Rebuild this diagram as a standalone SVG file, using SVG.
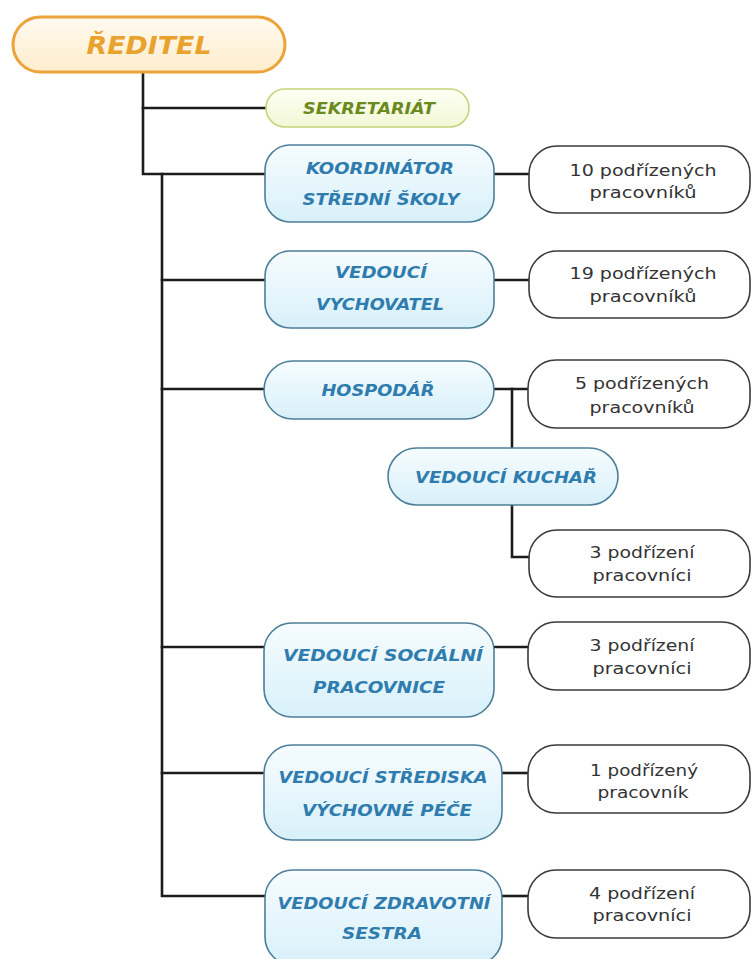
<svg xmlns="http://www.w3.org/2000/svg" width="753" height="959" viewBox="0 0 753 959">
<defs>
<linearGradient id="gBlue" x1="0" y1="0" x2="0" y2="1"><stop offset="0" stop-color="#f6fcff"/><stop offset="1" stop-color="#d8f0fa"/></linearGradient>
<linearGradient id="gOrange" x1="0" y1="0" x2="0" y2="1"><stop offset="0" stop-color="#fffaf0"/><stop offset="1" stop-color="#ffedcc"/></linearGradient>
<linearGradient id="gGreen" x1="0" y1="0" x2="0" y2="1"><stop offset="0" stop-color="#fefff4"/><stop offset="1" stop-color="#f2f8d6"/></linearGradient>
</defs>
<style>
.blue{fill:url(#gBlue);stroke:#4c7f97;stroke-width:1.6}
.cnt{fill:#ffffff;stroke:#3a3a3a;stroke-width:1.6}
.bt{font-family:"DejaVu Sans",sans-serif;font-weight:bold;font-style:italic;font-size:16px;fill:#2f7cae;text-anchor:middle}
.ct{font-family:"DejaVu Sans",sans-serif;font-size:16px;fill:#333333;text-anchor:middle}
.ln{fill:none;stroke:#1c1c1c;stroke-width:2.6;stroke-linecap:square}
</style>
<rect width="753" height="959" fill="#ffffff"/>
<g id="connectors">
<path class="ln" d="M143 72 V174 H265"/>
<path class="ln" d="M143 108 H266"/>
<path class="ln" d="M162 174 V896 H265"/>
<path class="ln" d="M162 280 H265"/>
<path class="ln" d="M162 389 H264"/>
<path class="ln" d="M162 647 H264"/>
<path class="ln" d="M162 773 H264"/>
<path class="ln" d="M494 174 H529"/>
<path class="ln" d="M494 280 H529"/>
<path class="ln" d="M494 389 H528"/>
<path class="ln" d="M512 389 V448"/>
<path class="ln" d="M512 505 V557 H529"/>
<path class="ln" d="M494 647 H528"/>
<path class="ln" d="M502 773 H528"/>
<path class="ln" d="M502 896 H528"/>
</g>
<g id="reditel">
<rect x="13" y="17" width="272" height="55" rx="27.5" fill="url(#gOrange)" stroke="#eba33a" stroke-width="3"/>
<text x="149" y="54" textLength="125" lengthAdjust="spacingAndGlyphs" style="font-family:'DejaVu Sans',sans-serif;font-weight:bold;font-style:italic;font-size:25px;fill:#e9a22e;text-anchor:middle">ŘEDITEL</text>
</g>
<g id="sekretariat">
<rect x="266" y="89" width="203" height="38" rx="19" fill="url(#gGreen)" stroke="#c6d47a" stroke-width="1.6"/>
<text x="369" y="114" textLength="132" lengthAdjust="spacingAndGlyphs" style="font-family:'DejaVu Sans',sans-serif;font-weight:bold;font-style:italic;font-size:15px;fill:#6b8a1e;text-anchor:middle">SEKRETARIÁT</text>
</g>
<g id="koordinator">
<rect class="blue" x="265" y="145" width="229" height="77" rx="25"/>
<text class="bt" x="380" y="174" textLength="148" lengthAdjust="spacingAndGlyphs">KOORDINÁTOR</text>
<text class="bt" x="381" y="205" textLength="157" lengthAdjust="spacingAndGlyphs">STŘEDNÍ ŠKOLY</text>
</g>
<g id="cnt10">
<rect class="cnt" x="529" y="146" width="221" height="67" rx="28"/>
<text class="ct" x="643" y="176" textLength="147" lengthAdjust="spacingAndGlyphs">10 podřízených</text>
<text class="ct" x="643" y="198" textLength="107" lengthAdjust="spacingAndGlyphs">pracovníků</text>
</g>
<g id="vychovatel">
<rect class="blue" x="265" y="251" width="229" height="77" rx="25"/>
<text class="bt" x="381" y="278" textLength="92" lengthAdjust="spacingAndGlyphs">VEDOUCÍ</text>
<text class="bt" x="380" y="310" textLength="128" lengthAdjust="spacingAndGlyphs">VYCHOVATEL</text>
</g>
<g id="cnt19">
<rect class="cnt" x="529" y="251" width="221" height="67" rx="28"/>
<text class="ct" x="643" y="279" textLength="147" lengthAdjust="spacingAndGlyphs">19 podřízených</text>
<text class="ct" x="643" y="302" textLength="107" lengthAdjust="spacingAndGlyphs">pracovníků</text>
</g>
<g id="hospodar">
<rect class="blue" x="264" y="361" width="230" height="58" rx="29"/>
<text class="bt" x="378" y="396" textLength="113" lengthAdjust="spacingAndGlyphs">HOSPODÁŘ</text>
</g>
<g id="cnt5">
<rect class="cnt" x="528" y="360" width="222" height="68" rx="28"/>
<text class="ct" x="642" y="389" textLength="134" lengthAdjust="spacingAndGlyphs">5 podřízených</text>
<text class="ct" x="642" y="413" textLength="105" lengthAdjust="spacingAndGlyphs">pracovníků</text>
</g>
<g id="kuchar">
<rect class="blue" x="388" y="448" width="230" height="57" rx="28.5"/>
<text class="bt" x="506" y="483" textLength="182" lengthAdjust="spacingAndGlyphs">VEDOUCÍ KUCHAŘ</text>
</g>
<g id="cnt3k">
<rect class="cnt" x="529" y="530" width="221" height="67" rx="28"/>
<text class="ct" x="642" y="558" textLength="105" lengthAdjust="spacingAndGlyphs">3 podřízení</text>
<text class="ct" x="642" y="581" textLength="99" lengthAdjust="spacingAndGlyphs">pracovníci</text>
</g>
<g id="socialni">
<rect class="blue" x="264" y="623" width="230" height="94" rx="28"/>
<text class="bt" x="383" y="661" textLength="200" lengthAdjust="spacingAndGlyphs">VEDOUCÍ SOCIÁLNÍ</text>
<text class="bt" x="379" y="693" textLength="132" lengthAdjust="spacingAndGlyphs">PRACOVNICE</text>
</g>
<g id="cnt3s">
<rect class="cnt" x="528" y="622" width="222" height="68" rx="28"/>
<text class="ct" x="642" y="651" textLength="105" lengthAdjust="spacingAndGlyphs">3 podřízení</text>
<text class="ct" x="642" y="674" textLength="99" lengthAdjust="spacingAndGlyphs">pracovníci</text>
</g>
<g id="strediska">
<rect class="blue" x="264" y="745" width="238" height="95" rx="28"/>
<text class="bt" x="383" y="783" textLength="209" lengthAdjust="spacingAndGlyphs">VEDOUCÍ STŘEDISKA</text>
<text class="bt" x="387" y="816" textLength="170" lengthAdjust="spacingAndGlyphs">VÝCHOVNÉ PÉČE</text>
</g>
<g id="cnt1">
<rect class="cnt" x="528" y="745" width="222" height="68" rx="28"/>
<text class="ct" x="644" y="776" textLength="108" lengthAdjust="spacingAndGlyphs">1 podřízený</text>
<text class="ct" x="643" y="798" textLength="91" lengthAdjust="spacingAndGlyphs">pracovník</text>
</g>
<g id="zdravotni">
<rect class="blue" x="265" y="870" width="237" height="95" rx="28"/>
<text class="bt" x="384" y="909" textLength="213" lengthAdjust="spacingAndGlyphs">VEDOUCÍ ZDRAVOTNÍ</text>
<text class="bt" x="382" y="939" textLength="80" lengthAdjust="spacingAndGlyphs">SESTRA</text>
</g>
<g id="cnt4">
<rect class="cnt" x="528" y="870" width="222" height="68" rx="28"/>
<text class="ct" x="642" y="899" textLength="106" lengthAdjust="spacingAndGlyphs">4 podřízení</text>
<text class="ct" x="642" y="921" textLength="99" lengthAdjust="spacingAndGlyphs">pracovníci</text>
</g>
</svg>
